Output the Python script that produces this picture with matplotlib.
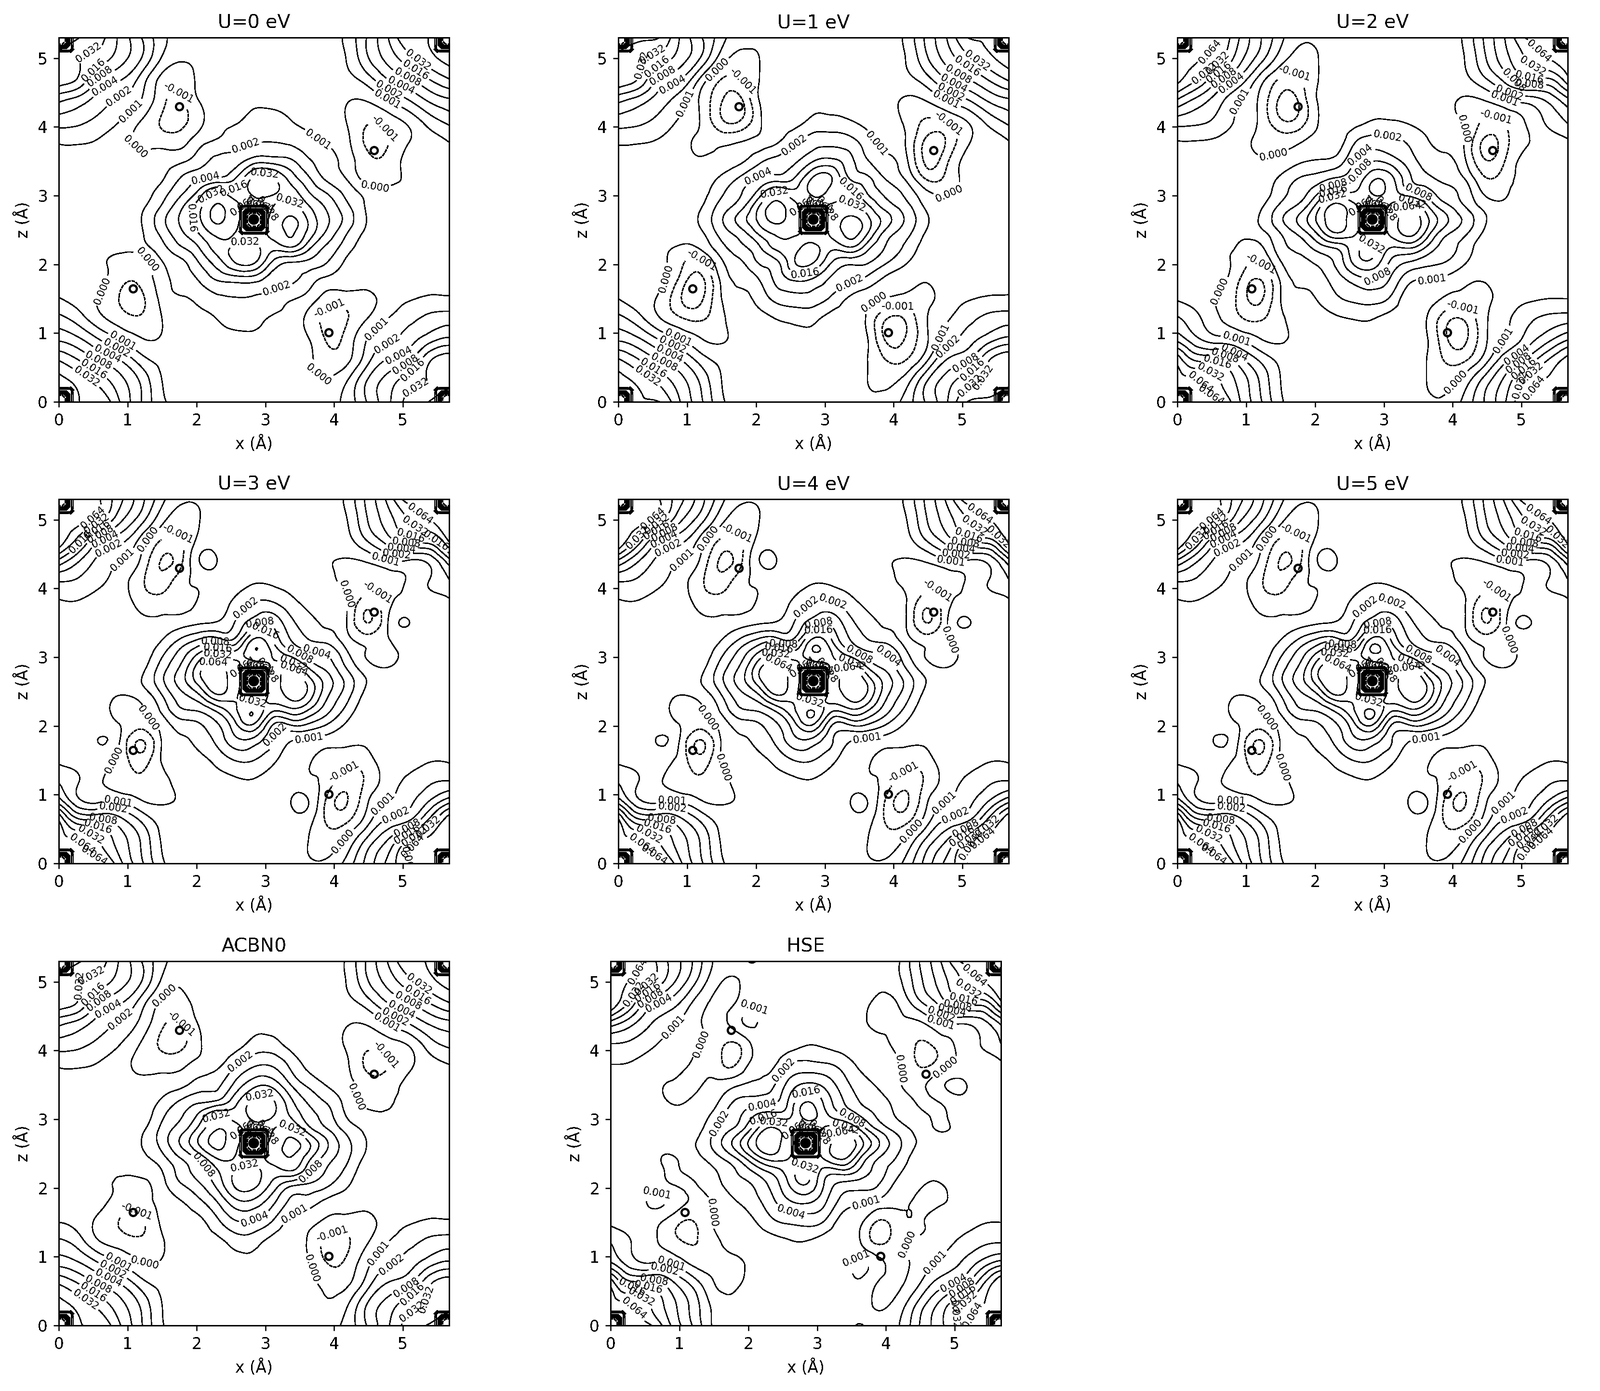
"""Charge density difference maps for the U series, ACBN0 and HSE."""

import matplotlib

matplotlib.use("Agg")

import matplotlib.pyplot as plt
import numpy as np
from matplotlib.tri import Triangulation, UniformTriRefiner

plt.rcParams["text.antialiased"] = False
plt.rcParams["lines.antialiased"] = False
plt.rcParams["patch.antialiased"] = False

# Field values are in contour steps: 1 = 0.001, 2 = 0.002, 3 = 0.004, ... 0 = 0.000, -1 = -0.001, -2 = -0.002.
# The maps are inversion symmetric, so only the rows up to the centre are kept.
GRID_X = [0, 0.3, 0.6, 0.9, 1.2, 1.5, 1.8, 2.05, 2.3, 2.55, 2.835, 3.12, 3.37, 3.62, 3.87, 4.17, 4.47, 4.77, 5.07, 5.37, 5.67]
GRID_Z = [0, 0.3, 0.6, 0.9, 1.2, 1.5, 1.8, 2.05, 2.25, 2.45, 2.65]

U0 = [
    [9, 7.0, 6.8, 4.9, 3.0, 1.2, .6, .5, .5, .5, .5, .5, .5, .5, .6, 1.3, 3.0, 4.7, 6.3, 7.0, 9],
    [7.5, 6.6, 5.6, 4.3, 2.8, 1.0, .6, .4, .4, .4, .4, .4, .4, .2, .1, .9, 3, 4.4, 5.5, 6, 6.5],
    [6.0, 5, 3.9, 3, 1.5, .7, .5, .4, .4, .4, .4, .4, .4, .2, -.5, -.3, 1.6, 3.1, 3.8, 5.8, 6.6],
    [3.9, 3.2, 2, 1.0, .1, .1, .4, .5, .7, .75, .75, .6, .4, .1, -1, -.7, 1, 1.8, 2.5, 3.6, 4.3],
    [2.4, 1.5, .3, -.5, -.8, 0, .5, .7, 1.0, 1.3, 1.3, .85, .6, -.3, -1.2, -1.1, 0, 1, 1.7, 2.3, 2.6],
    [1.05, .6, -.1, -1.1, -1.2, .3, .9, 1.3, 1.75, 1.95, 1.9, 1.6, 1.1, .6, -.4, -.5, -.3, .4, .9, 1.15, 1.15],
    [.7, .4, .3, -.7, -.7, .6, 1.5, 2.2, 3.2, 3.6, 3.6, 2.5, 2.2, 1.6, .9, .6, .4, .4, .5, .6, .6],
    [.3, .2, .1, -.3, -.4, 1, 1.9, 3.2, 4.6, 6.1, 6.3, 3.9, 3.2, 2.9, 2.2, .9, .4, .3, .3, .3, .3],
    [.2, .2, .2, .2, .6, 1.7, 3, 4.1, 5.5, 6.1, 6.3, 5.4, 6, 4.4, 2.9, 1.5, .5, .3, .3, .3, .3],
    [.2, .2, .2, .3, .9, 2.3, 3.9, 5.1, 6.3, 6, 5.7, 6.3, 7.1, 5.7, 3.9, 2.1, .8, .4, .3, .3, .3],
    [.2, .2, .2, .3, 1, 2.7, 4.3, 5.9, 7.2, 6.3, 5.7, 6.3, 7.2, 5.9, 4.3, 2.7, 1, .3, .2, .2, .2],
]
U1 = [
    [9, 7.2, 7.0, 5.0, 3.2, 1.2, .5, .4, .4, .4, .4, .4, .3, .2, .2, 1.4, 3.1, 4.9, 7.0, 7.4, 9],
    [7.6, 6.7, 5.7, 4.4, 2.8, 1, .5, .3, .3, .3, .3, .2, .2, 0, -.2, .5, 2.9, 4.5, 5.6, 6.1, 6.7],
    [6.2, 5.1, 4, 3.1, 1.6, .7, .4, .3, .3, .3, .3, .2, .2, 0, -.9, -1, .8, 3.1, 3.9, 5.9, 6.8],
    [3.9, 3.2, 2, 1.1, .1, -.1, .3, .4, .5, .7, .7, .5, .3, .05, -2.0, -1.9, -.2, 1.5, 2.5, 3.6, 4.4],
    [2.4, 1.4, .1, -.8, -1.1, -.2, .4, .6, 1.0, 1.2, 1.2, .6, .6, -.2, -1.9, -1.9, -.1, .9, 1.7, 2.3, 2.6],
    [1, .5, -.2, -1.9, -2.2, 0, .7, 1.4, 2.3, 2.6, 2.5, 1.7, .8, .3, -.05, -.3, -.2, .4, .9, 1.15, 1.2],
    [.6, .4, .3, -1.2, -2.2, .3, 1.3, 2.1, 3.3, 4.3, 4, 2.8, 2.3, 1.8, .9, .4, .1, .3, .4, .5, .6],
    [.3, .2, .2, -.7, -1.1, .9, 2, 3.2, 3.9, 5.9, 6.2, 4, 3.5, 3.2, 2.3, 1.2, .4, .3, .3, .3, .3],
    [.2, .2, .2, -.1, .2, 1.7, 2.8, 3.9, 5.3, 5.6, 6.3, 5.3, 6, 4.4, 3, 1.8, .6, .3, .3, .3, .3],
    [.3, .3, .3, .3, .8, 2.4, 3.6, 5.2, 6.2, 6.2, 5.6, 6.3, 7.3, 6, 3.7, 2.4, .9, .3, .3, .3, .3],
    [.3, .3, .3, .3, 1.2, 2.9, 4.6, 6.3, 7.3, 6.4, 5.7, 6.4, 7.3, 6.3, 4.6, 2.9, 1.2, .3, .3, .3, .3],
]
U2 = [
    [9.2, 7.7, 7.1, 5.1, 3.2, 1.2, .4, .3, .3, .3, .3, .3, .3, .2, .1, 1.3, 3.1, 5, 7, 7.7, 9.2],
    [7.5, 7.0, 6.1, 4.7, 2.9, 1, .4, .3, .2, .2, .2, .2, .2, 0, -.3, .5, 2.5, 4.4, 6.3, 7.1, 7.5],
    [6.7, 4.9, 4.8, 3.5, 1.9, .7, .3, .3, .2, .2, .2, .2, .2, 0, -1, -1.1, .6, 2.8, 4.3, 6, 7.4],
    [3.8, 2.2, 1.5, 1.0, .1, -.1, .2, .3, .4, .5, .5, .4, .3, .1, -1.6, -2.2, -.2, 1.1, 2.4, 3.7, 5],
    [2.2, 1.2, .1, -.8, -1.1, -.2, .3, .5, .8, 1, 1, .6, .6, 0, -1.5, -1.9, -.2, .8, 1.7, 2.3, 2.6],
    [.9, .5, -.1, -1.3, -2.2, 0, .7, 1.1, 1.8, 2.2, 2.4, 1.7, .4, .3, -.1, -.4, -.2, .4, .8, 1, 1],
    [.5, .4, .3, -.9, -1.9, .2, 1.3, 1.6, 2.5, 3.5, 4, 2.8, 1.4, 1.1, .9, .3, .1, .3, .3, .4, .5],
    [.3, .3, .2, -.4, -.9, 1, 1.8, 2.3, 3.2, 5.2, 5.8, 3.8, 3.1, 2.5, 2.1, 1.2, .3, .3, .3, .3, .3],
    [.3, .2, .1, -.1, -.2, 1.6, 2.4, 3.5, 4.2, 5.5, 6.1, 5, 5.2, 3.9, 2.6, 1.6, .4, .3, .3, .3, .3],
    [.3, .3, .3, .2, .6, 2, 3.4, 5.2, 6.9, 6.2, 5.6, 6.3, 7.3, 5.6, 3.4, 2.2, .8, .3, .3, .3, .3],
    [.3, .3, .3, .4, 1.1, 2.8, 4.4, 6.3, 7.6, 6.5, 5.7, 6.5, 7.6, 6.3, 4.4, 2.8, 1.1, .4, .3, .3, .3],
]
U3 = [
    [9.4, 7.9, 7.5, 5.2, 3.2, 1.2, .4, .3, .3, .3, .3, .3, .2, .1, .1, 1.3, 3.3, 5.2, 7, 7.9, 9.4],
    [7.5, 7, 6, 4.5, 2.9, .9, .4, .3, .2, .2, .2, .1, .1, 0, -.4, .3, 2.4, 4.2, 6.3, 7.4, 7.5],
    [7.2, 4.6, 4.4, 3.5, 2, .6, .3, .2, .2, .2, .1, .1, .4, .3, -1, -1.1, .6, 2.3, 3.1, 5.4, 7.8],
    [3.6, 1.2, .9, .9, .1, -.1, .1, .3, .3, .3, .3, .3, 1, 1.05, -1, -2.1, -.2, 1, 1.7, 3, 4.7],
    [1.9, 1, .1, -.6, -.8, -.3, .3, .4, .6, .8, .9, .5, .4, .2, -.3, -1.5, -.8, .4, 1.2, 1.8, 2],
    [.8, .5, .3, -.4, -1.5, .1, .5, .7, 1.3, 2, 2, 1.2, .4, .1, -.3, -.6, -.4, .5, .6, .9, .9],
    [.4, .4, 1.05, -.1, -2, .1, .9, 1.4, 2.3, 3.7, 3.7, 2, 1.1, .9, .6, .3, .2, .4, .3, .3, .4],
    [.3, .3, .3, -.1, -.4, .5, 1.7, 2.05, 3, 4.8, 6.2, 3.2, 3.5, 3.2, 2.3, 1, .3, .2, .2, .3, .3],
    [.3, .3, .2, -.3, -.05, 1.3, 3, 3.3, 4.5, 5.8, 6.7, 5.4, 5.9, 5.2, 3.6, 1.8, .4, .2, .2, .3, .3],
    [.4, .4, .3, 0, .4, 2, 3.8, 5, 6.9, 6.2, 5.5, 6.3, 7.4, 6.7, 4.4, 2.5, .7, .3, .3, .4, .4],
    [.4, .4, .4, .5, 1, 2.8, 4.7, 6.6, 7.8, 6.4, 5.6, 6.4, 7.8, 6.6, 4.7, 2.8, 1, .5, .4, .4, .4],
]
U4 = [
    [9.5, 8, 7.6, 5.2, 3.2, 1.2, .4, .3, .3, .3, .3, .3, .2, .1, .1, 1.3, 3.4, 5.3, 7, 8, 9.5],
    [7.5, 7, 6, 4.5, 2.9, .9, .4, .3, .2, .2, .2, .1, .1, 0, -.4, .3, 2.4, 4.2, 6.4, 7.5, 7.5],
    [7.4, 4.6, 4.4, 3.5, 2, .6, .3, .2, .2, .2, .1, .1, .4, .3, -1, -1.2, .6, 2.3, 3.1, 5.5, 8],
    [3.6, 1.2, .9, .9, .1, -.1, .1, .3, .3, .3, .3, .3, 1, 1, -1, -2.2, -.2, 1, 1.7, 3, 4.8],
    [1.9, 1, .1, -.6, -.8, -.3, .3, .4, .6, .8, .9, .5, .4, .2, -.3, -1.5, -.8, .4, 1.2, 1.8, 2],
    [.8, .5, .3, -.4, -1.6, .1, .5, .7, 1.3, 2, 2, 1.2, .4, .1, -.3, -.6, -.4, .5, .6, .9, .9],
    [.4, .4, 1.1, -.1, -2, .1, .9, 1.4, 2.3, 3.7, 3.7, 2, 1.1, .9, .6, .3, .2, .4, .3, .3, .4],
    [.3, .3, .3, -.1, -.4, .5, 1.7, 2.05, 3, 4.8, 6.3, 3.2, 3.5, 3.3, 2.3, 1, .3, .2, .2, .3, .3],
    [.3, .3, .2, -.3, -.05, 1.3, 3, 3.3, 4.5, 5.9, 6.8, 5.4, 6, 5.3, 3.6, 1.8, .4, .2, .2, .3, .3],
    [.4, .4, .3, 0, .4, 2, 3.8, 5, 7, 6.2, 5.5, 6.3, 7.5, 6.8, 4.4, 2.5, .7, .3, .3, .4, .4],
    [.4, .4, .4, .5, 1, 2.8, 4.7, 6.7, 8.05, 6.4, 5.6, 6.4, 8.05, 6.7, 4.7, 2.8, 1, .5, .4, .4, .4],
]
U5 = [
    [9.5, 8, 7.6, 5.3, 3.2, 1.2, .4, .3, .3, .3, .3, .3, .2, .1, .1, 1.3, 3.4, 5.3, 7.1, 8, 9.5],
    [7.6, 7, 6.1, 4.5, 2.9, .9, .4, .3, .2, .2, .2, .1, .1, 0, -.4, .3, 2.4, 4.2, 6.4, 7.5, 7.6],
    [7.5, 4.6, 4.4, 3.5, 2, .6, .3, .2, .2, .2, .1, .1, .4, .3, -1, -1.2, .6, 2.3, 3.1, 5.6, 8.1],
    [3.6, 1.2, .9, .9, .1, -.1, .1, .3, .3, .3, .3, .3, 1.1, 1.1, -1, -2.1, -.2, 1, 1.7, 3, 4.8],
    [1.9, 1, .1, -.6, -.8, -.3, .3, .4, .6, .8, .9, .5, .4, .2, -.3, -1.5, -.8, .4, 1.2, 1.8, 2],
    [.8, .5, .3, -.4, -1.6, .1, .5, .7, 1.3, 2, 2, 1.2, .4, .1, -.3, -.6, -.4, .5, .6, .9, .9],
    [.4, .4, 1.15, -.1, -2, .1, .9, 1.4, 2.3, 3.7, 3.7, 2, 1.1, .9, .6, .3, .2, .4, .3, .3, .4],
    [.3, .3, .3, -.1, -.4, .5, 1.7, 2.05, 3, 4.8, 6.4, 3.2, 3.5, 3.3, 2.3, 1, .3, .2, .2, .3, .3],
    [.3, .3, .2, -.3, -.05, 1.3, 3, 3.3, 4.5, 5.9, 6.9, 5.4, 6, 5.3, 3.6, 1.8, .4, .2, .2, .3, .3],
    [.4, .4, .3, 0, .4, 2, 3.8, 5, 7, 6.2, 5.5, 6.3, 7.5, 6.8, 4.4, 2.5, .7, .3, .3, .4, .4],
    [.4, .4, .4, .5, 1, 2.8, 4.7, 6.7, 8.1, 6.4, 5.6, 6.4, 8.1, 6.7, 4.7, 2.8, 1, .5, .4, .4, .4],
]
ACBN0 = [
    [9, 7.1, 6.8, 5, 3.1, 1.1, .5, .5, .5, .5, .5, .5, .5, .5, .6, 1.3, 3, 4.8, 6.4, 7.1, 9],
    [7.5, 6.6, 5.6, 4.3, 2.8, 1, .6, .4, .4, .4, .4, .4, .3, .2, .1, .8, 3, 4.4, 5.5, 6, 6.5],
    [6, 5, 3.9, 3, 1.5, .7, .5, .4, .4, .4, .4, .4, .4, .2, -.2, -.2, 1.5, 3.1, 3.8, 5.8, 6.6],
    [3.7, 3.1, 2, 1, .1, .1, .4, .5, .6, .7, .7, .6, .3, .1, -.9, -.8, .7, 1.8, 2.5, 3.6, 4.3],
    [2.3, 1.5, .1, -.4, -.7, -.1, .5, .7, .7, 1.3, 1.3, .6, .4, -.1, -1.2, -1.2, -.1, 1, 1.7, 2.3, 2.6],
    [1, .6, -.3, -1.1, -1.2, .2, .6, .8, 1.7, 2.8, 2.8, 1.8, .7, .3, -.2, -.4, -.3, .4, .9, 1.15, 1.15],
    [.6, .4, .2, -.4, -.5, .4, 1, 1.8, 3, 4.6, 4.7, 3.2, 1.8, 1.5, .8, .5, .3, .4, .5, .6, .6],
    [.3, .2, .1, -.1, -.3, .7, 2, 2.9, 4.3, 6.1, 6.3, 4.6, 3.3, 2.9, 2.3, 1.2, .4, .3, .3, .3, .3],
    [.2, .2, .2, .1, .4, 1, 2.6, 3.5, 4.9, 6, 6.3, 5.6, 6, 4.4, 3, 1.8, .4, .3, .3, .3, .3],
    [.2, .2, .2, .3, .8, 1.7, 3.2, 4.5, 6.2, 6, 5.7, 6.4, 7, 5.5, 3.7, 2.3, .8, .4, .3, .3, .3],
    [.2, .2, .2, .3, 1, 2.4, 4.3, 6.2, 7.3, 6.3, 5.7, 6.3, 7.3, 6.2, 4.3, 2.4, 1, .3, .2, .2, .2],
]
HSE = [
    [9.5, 7.8, 7, 4.8, 2.9, .8, .1, .2, .4, .4, .4, .4, .4, -.05, .4, .9, 2.9, 4.6, 6.3, 7.6, 9.5],
    [7.5, 6.9, 5.9, 4.3, 2.6, .7, .15, .2, .3, .4, .4, .4, .4, .3, -.1, .4, 2.3, 4.2, 5.9, 6.9, 7.5],
    [6.8, 4.5, 4.6, 3.3, 1.7, .05, -.15, .2, .3, .3, .4, .4, .5, .8, -.05, -.2, .9, 2.5, 3.4, 5.6, 8],
    [3.2, 1.5, 1.1, .9, -.2, -.2, -.2, .2, .3, .4, .4, .4, .4, 1.2, .4, -.2, .3, 1.2, 2, 3.3, 4.6],
    [2, 1, .2, -.6, -1.05, -.3, .3, .4, .5, .8, .9, .5, .5, .1, -1.1, -.4, .1, .5, 1.2, 1.8, 2],
    [.8, .5, .3, -.6, -1.05, .1, .5, .8, 1.6, 2.1, 2.3, 1.8, .6, .2, -1.1, -.4, -.05, .3, .5, .9, 1],
    [.4, .4, 1.2, .7, -.2, .1, .9, 1.5, 2.5, 3.7, 4.2, 3.1, 1.6, 1.2, .8, .2, -.1, -.1, .2, .4, .4],
    [.3, .3, .6, 0, -.1, .6, 1.5, 2, 3.1, 4.7, 6, 3.8, 2.7, 2.5, 2.1, .7, .1, -.05, .3, .3, .3],
    [.3, .3, .3, -.1, .3, .9, 1.9, 3, 4.2, 5.3, 6.3, 4.6, 4.8, 3.8, 2.6, 1.3, .3, .2, .3, .3, .3],
    [.3, .3, .2, -.05, .6, 1.6, 3, 5, 6.6, 6.2, 5.5, 6.3, 7.3, 5.2, 3.2, 1.9, .5, .3, .3, .3, .3],
    [.3, .3, .3, .4, .9, 2.3, 4.3, 6.5, 7.8, 6.5, 5.6, 6.5, 7.8, 6.5, 4.3, 2.3, .9, .4, .3, .3, .3],
]

# Core region around each metal site, same steps, spacing 0.055 A.
CORE_OFFSET = [-0.22, -0.165, -0.11, -0.055, 0, 0.055, 0.11, 0.165, 0.22]
CORE = [
    [5.5, 6, 6.5, 6.5, 6.5, 6.5, 6.5, 6, 5.5],
    [6, 9, 9, 9, 9, 9, 9, 9, 6],
    [6.5, 9, 1, -.8, -.8, -.8, 1, 9, 6.5],
    [6.5, 9, -.8, -1.4, -1.4, -1.4, -.8, 9, 6.5],
    [6.5, 9, -.8, -1.4, -1.4, -1.4, -.8, 9, 6.5],
    [6.5, 9, -.8, -1.4, -1.4, -1.4, -.8, 9, 6.5],
    [6.5, 9, 1, -.8, -.8, -.8, 1, 9, 6.5],
    [6, 9, 9, 9, 9, 9, 9, 9, 6],
    [5.5, 6, 6.5, 6.5, 6.5, 6.5, 6.5, 6, 5.5],
]

LEVELS = [-2, -1, 0, 1, 2, 3, 4, 5, 6, 7, 8]
LEVEL_TEXT = ["-0.002", "-0.001", "0.000", "0.001", "0.002", "0.004", "0.008", "0.016", "0.032", "0.064", "0.128"]

ATOM_OPEN_X = [1.08, 1.75, 3.92, 4.58]
ATOM_OPEN_Z = [1.65, 4.30, 1.01, 3.66]
ATOM_FILLED_X = [2.83]
ATOM_FILLED_Z = [2.66]

TITLES = ["U=0 eV", "U=1 eV", "U=2 eV", "U=3 eV", "U=4 eV", "U=5 eV", "ACBN0", "HSE"]
FIELDS = [U0, U1, U2, U3, U4, U5, ACBN0, HSE]

# Where the contour labels sit on each map, in axis units.
LABELS_U0 = [
    (.43, 5.09), (.43, 4.89), (.53, 4.81), (.65, 4.65), (.85, 4.5), (1.01, 4.28), (.97, 3.55), (1.73, 4.48),
    (5.18, 4.92), (5.18, 4.82), (5.07, 4.73), (4.97, 4.6), (4.79, 4.52), (4.76, 4.38), (4.58, 3.03), (4.77, 4.01),
    (2.71, 3.75), (3.79, 3.85), (2.13, 3.25), (2.2, 3.05), (2.56, 3.03), (1.89, 2.67), (2.99, 3.31), (3.34, 2.89),
    (2.7, 2.37), (3.19, 1.58), (1.14, 1.96), (.61, 1.63), (3.9, 1.43), (3.75, .37),
    (.93, .89), (.85, .8), (.71, .7), (.57, .58), (.51, .48), (.43, .4),
    (4.62, 1.06), (4.78, .83), (4.94, .67), (5.06, .51), (5.18, .43), (5.18, .23),
]
LABELS_U1 = [
    (.49, 5.08), (.42, 4.96), (.57, 4.87), (.64, 4.76), (.8, 4.59), (.99, 4.34), (1.42, 4.85), (1.79, 4.65),
    (5.19, 4.93), (5.04, 4.83), (4.93, 4.74), (4.89, 4.66), (4.84, 4.52), (4.77, 4.41), (4.87, 2.88), (4.79, 4.04),
    (3.77, 3.77), (2.63, 3.67), (2.06, 3.23), (2.27, 3.05), (3.34, 3.02), (3.41, 2.91), (2.71, 1.9), (3.32, 1.82),
    (1.22, 2.07), (.73, 1.77), (.86, .9), (.78, .81), (.73, .65), (.65, .54), (.5, .47), (.43, .38),
    (3.68, 1.54), (4.06, 1.43), (4.61, .97), (4.83, .76), (5.03, .59), (5.12, .49), (5.25, .37), (5.12, .24),
]
LABELS_U2 = [
    (.42, 5.15), (.48, 5.05), (.5, 4.96), (.5, 4.87), (.64, 4.78), (.79, 4.63), (.94, 4.35), (1.41, 3.56), (1.71, 4.8),
    (5.18, 5.05), (5.18, 4.92), (5.12, 4.84), (5.12, 4.76), (4.97, 4.66), (4.83, 4.52), (4.76, 4.43), (4.12, 3.96), (4.62, 4.12),
    (3.06, 3.91), (2.62, 3.63), (2.7, 3.34), (2.27, 3.13), (2.27, 3.05), (2.27, 2.94), (3.49, 3.0), (3.41, 2.92), (3.34, 2.83),
    (2.85, 2.35), (2.91, 1.82), (3.7, 1.78), (1.27, 2.05), (.71, 1.54),
    (.85, .88), (.85, .75), (.69, .65), (.58, .56), (.5, .48), (.42, .39), (.42, .27),
    (4.14, 1.34), (4.69, .94), (4.05, .28), (4.91, .72), (4.97, .54), (5.11, .46), (5.11, .37), (5.11, .26), (5.18, .17),
]
LABELS_U3 = [
    (.43, 5.13), (.5, 5.03), (.5, 4.96), (.57, 4.88), (.65, 4.78), (.71, 4.65), (.3, 4.7), (.94, 4.4), (1.29, 4.72), (1.73, 4.79),
    (5.18, 5.03), (5.18, 4.92), (5.12, 4.83), (5.05, 4.75), (4.98, 4.65), (4.91, 4.53), (4.76, 4.46), (5.49, 4.72), (4.14, 3.9), (4.71, 4.06),
    (2.77, 3.66), (2.92, 3.52), (2.99, 3.35), (2.27, 3.2), (2.31, 3.12), (2.31, 3.05), (2.25, 2.94), (3.49, 3.02), (3.74, 3.03),
    (3.41, 2.92), (3.41, 2.81), (2.81, 2.35), (3.2, 1.84), (3.64, 1.78), (1.28, 2.06), (.75, 1.55),
    (.86, .87), (.79, .78), (.65, .68), (.57, .57), (.5, .49), (.43, .4), (.43, .28),
    (4.14, 1.34), (4.69, .9), (4.12, .33), (4.91, .67), (5.05, .54), (5.05, .45), (5.36, .54), (5.18, .37), (5.12, .28), (5.18, .19),
]
LABELS_U4 = [
    (.43, 5.13), (.5, 5.05), (.5, 4.96), (.64, 4.91), (.64, 4.79), (.71, 4.66), (.25, 4.77), (.91, 4.45), (1.28, 4.75), (1.73, 4.81),
    (5.24, 5.07), (5.19, 4.94), (5.1, 4.84), (5.04, 4.75), (4.98, 4.65), (4.91, 4.54), (4.84, 4.44), (5.5, 4.73), (4.82, 3.25), (4.71, 4.08),
    (3.13, 3.84), (2.77, 3.68), (2.91, 3.51), (2.91, 3.37), (2.4, 3.19), (2.33, 3.11), (2.29, 3.07), (2.35, 2.95), (3.49, 3.02), (3.85, 2.95),
    (3.4, 2.94), (3.34, 2.85), (2.78, 2.35), (3.62, 1.79), (1.28, 2.08), (1.51, 1.39),
    (.78, .87), (.78, .78), (.63, .68), (.57, .58), (.48, .49), (.42, .41), (.35, .29),
    (4.13, 1.35), (4.74, .88), (4.25, .48), (4.91, .66), (5.04, .53), (4.98, .42), (5.38, .53), (5.12, .36), (5.06, .27), (5.18, .2),
]
LABELS_U5 = LABELS_U4
LABELS_ACBN0 = [
    (.47, 5.1), (.35, 4.96), (.48, 4.84), (.58, 4.73), (.73, 4.57), (.94, 4.39), (1.5, 4.84), (1.75, 4.36),
    (5.21, 4.93), (5.22, 4.82), (5.08, 4.73), (4.98, 4.6), (4.89, 4.49), (4.76, 4.4), (4.28, 3.31), (4.78, 3.97),
    (2.6, 3.9), (2.92, 3.34), (2.29, 3.05), (3.4, 2.88), (2.69, 2.36), (2.14, 2.36), (3.72, 2.2), (2.85, 1.54), (3.45, 1.58),
    (1.19, 1.81), (.86, .9), (1.26, .94), (.79, .81), (.71, .65), (.56, .56), (.48, .45), (.4, .39),
    (3.95, 1.41), (3.69, .83), (4.72, .99), (4.89, .79), (5.03, .58), (5.12, .47), (5.22, .36), (5.12, .24),
]
LABELS_HSE = [
    (.39, 5.16), (.47, 5.06), (.47, 4.97), (.47, 4.88), (.55, 4.82), (.7, 4.69), (.87, 4.39), (1.26, 4.14), (2.1, 4.65),
    (5.21, 5.03), (5.21, 4.93), (5.13, 4.82), (5.05, 4.74), (4.97, 4.64), (4.81, 4.54), (4.81, 4.44), (4.2, 3.73), (4.89, 3.71),
    (2.49, 3.74), (2.84, 3.4), (2.21, 3.16), (2.21, 3.06), (2.37, 2.93), (1.63, 2.91), (3.49, 2.99), (3.42, 2.91), (3.34, 2.83),
    (2.84, 2.36), (2.61, 1.62), (3.71, 1.79), (.7, 2.03), (1.42, 1.65),
    (.87, .86), (.78, .79), (.63, .67), (.55, .58), (.47, .49), (.39, .41), (.39, .3),
    (3.56, 1.05), (4.33, 1.17), (4.73, .91), (4.97, .65), (5.12, .53), (5.14, .42), (5.14, .35), (5.14, .26), (5.21, .17),
]
LABEL_SPOTS = [LABELS_U0, LABELS_U1, LABELS_U2, LABELS_U3, LABELS_U4, LABELS_U5, LABELS_ACBN0, LABELS_HSE]
CORE_LABEL_SPOTS = [(2.68, 2.86), (2.8, 2.86), (2.92, 2.86), (3.02, 2.8)]

COL_LEFT = [122, 1283, 2443]
ROW_TOP = [78, 1036, 1995]
AXES_W = 810
AXES_H = 756
HSE_LEFT = 1267

FIG_W = 3320
FIG_H = 2887
DPI = 236
LINE_W = 0.5
LABEL_SIZE = 6.4


def full_field(half_rows: list) -> np.ndarray:
    half = np.array(half_rows, dtype=float)
    return np.vstack([half, half[:-1][::-1, ::-1]])


def draw_panel(ax, title: str, half_rows: list, label_spots: list) -> None:
    grid_x = np.array(GRID_X)
    grid_z = np.array(GRID_Z + [5.3 - z for z in GRID_Z[-2::-1]])
    xx, zz = np.meshgrid(grid_x, grid_z)
    tri = Triangulation(xx.ravel(), zz.ravel())
    fine_tri, fine_field = UniformTriRefiner(tri).refine_field(full_field(half_rows).ravel(), subdiv=3)
    texts = dict(zip(LEVELS, LEVEL_TEXT))

    cs = ax.tricontour(fine_tri, fine_field, levels=LEVELS[:10], colors="k", linewidths=LINE_W, antialiased=False)
    ax.clabel(cs, fontsize=LABEL_SIZE, fmt=texts, inline=True, inline_spacing=2, manual=label_spots)

    core_x = np.array(CORE_OFFSET)
    for cx, cz in [(2.835, 2.65), (0, 0), (5.67, 0), (0, 5.3), (5.67, 5.3)]:
        core = ax.contour(core_x + cx, core_x + cz, np.array(CORE), levels=LEVELS, colors="k",
                          linewidths=LINE_W, antialiased=False)
        if cx == 2.835:
            ax.clabel(core, fontsize=LABEL_SIZE, fmt=texts, inline=False, manual=CORE_LABEL_SPOTS)

    ax.plot(ATOM_OPEN_X, ATOM_OPEN_Z, "o", mfc="none", mec="k", ms=4.5, mew=1.4)
    ax.plot(ATOM_FILLED_X, ATOM_FILLED_Z, "o", color="k", ms=5.8)
    ax.set_xlim(0, 5.67)
    ax.set_ylim(0, 5.3)
    ax.set_xticks(range(6))
    ax.set_yticks(range(6))
    ax.set_xlabel("x (Å)")
    ax.set_ylabel("z (Å)")
    ax.set_title(title)


def main() -> None:
    fig = plt.figure(figsize=(FIG_W / DPI, FIG_H / DPI))
    for idx, (title, half_rows) in enumerate(zip(TITLES, FIELDS)):
        row, col = divmod(idx, 3)
        left = HSE_LEFT if title == "HSE" else COL_LEFT[col]
        top = ROW_TOP[row]
        ax = fig.add_axes([left / FIG_W, 1 - (top + AXES_H) / FIG_H, AXES_W / FIG_W, AXES_H / FIG_H])
        draw_panel(ax, title, half_rows, LABEL_SPOTS[idx])
    fig.savefig("out.png", dpi=DPI)
    plt.close(fig)


if __name__ == "__main__":
    main()
